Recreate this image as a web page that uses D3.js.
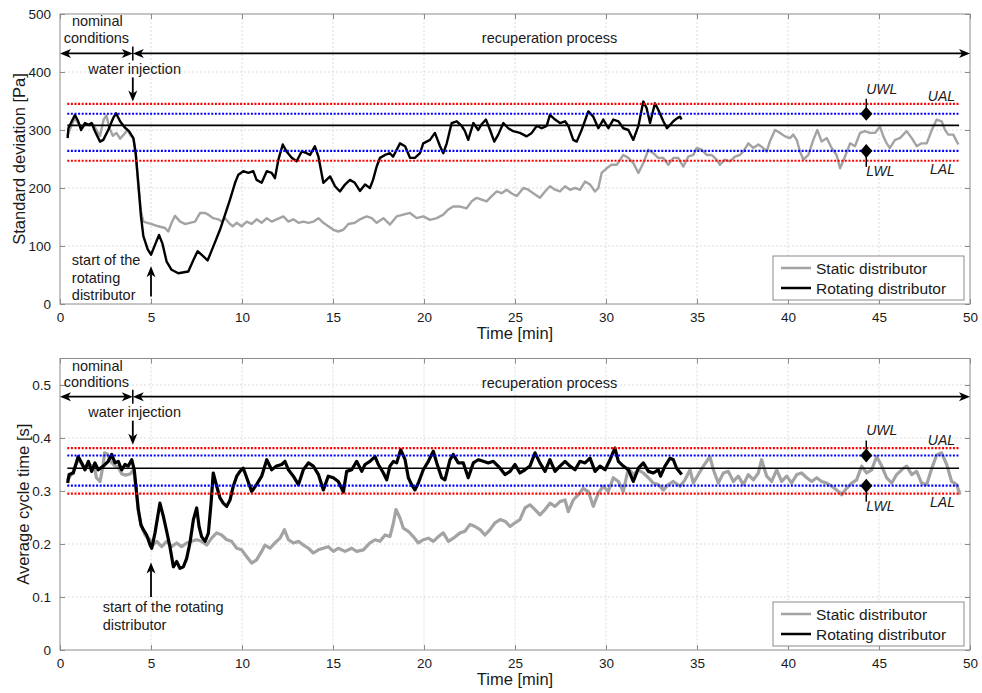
<!DOCTYPE html>
<html><head><meta charset="utf-8">
<script src="https://cdn.jsdelivr.net/npm/d3@7"></script>
<style>
body{margin:0;background:#fff;}
text{font-family:"Liberation Sans",Arial,Helvetica,sans-serif;fill:#1a1a1a;}
</style></head>
<body><svg id="c" width="982" height="693"></svg>
<script>
// ---------- DATA ----------
const xTicks = [0,5,10,15,20,25,30,35,40,45,50];
const sdTicks = [0,100,200,300,400,500];
const ctTicks = [0,0.1,0.2,0.3,0.4,0.5];
const seriesNames = ["Static distributor","Rotating distributor"];
// control limits: [LAL, LWL, mean, UWL, UAL]
const sdLimits = [247, 264, 308, 328, 345];
const ctLimits = [0.295, 0.310, 0.343, 0.367, 0.381];

const sdRotating = [[0.42,286],[0.46,303],[0.6,312],[0.82,326],[1.0,315],[1.16,300],[1.37,312],[1.56,309],[1.74,312],[1.92,298],[2.2,280],[2.38,283],[2.65,300],[2.93,321],[3.08,329],[3.3,315],[3.57,304],[3.79,298],[4.03,286],[4.16,260],[4.3,209],[4.45,151],[4.58,117],[4.82,94],[5.0,85],[5.22,102],[5.44,119],[5.62,105],[5.86,73],[6.13,59],[6.5,53],[7.05,56],[7.33,76],[7.56,91],[7.88,82],[8.11,75],[8.42,99],[8.79,128],[9.07,154],[9.34,180],[9.62,209],[9.8,223],[10.07,229],[10.35,226],[10.62,229],[10.8,214],[11.08,209],[11.36,229],[11.63,226],[11.81,217],[12.0,249],[12.24,275],[12.45,263],[12.73,252],[13.0,246],[13.28,263],[13.55,260],[13.74,257],[14.0,272],[14.2,254],[14.47,209],[14.84,220],[15.11,203],[15.38,194],[15.66,206],[15.93,214],[16.2,209],[16.48,195],[16.76,206],[17.03,200],[17.2,214],[17.4,237],[17.58,252],[17.86,257],[18.13,260],[18.3,254],[18.68,277],[18.96,272],[19.23,252],[19.5,252],[19.78,260],[19.96,277],[20.33,283],[20.6,295],[20.88,272],[21.06,260],[21.25,277],[21.52,312],[21.8,315],[22.07,307],[22.25,298],[22.43,283],[22.71,312],[22.98,300],[23.17,310],[23.4,318],[23.63,300],[23.86,280],[24.08,292],[24.36,312],[24.63,303],[24.9,298],[25.27,295],[25.64,289],[25.92,295],[26.19,307],[26.47,303],[26.74,307],[26.92,326],[27.2,318],[27.47,312],[27.75,315],[27.93,307],[28.2,283],[28.39,280],[28.66,300],[29.03,332],[29.3,323],[29.58,303],[29.85,318],[30.13,303],[30.4,318],[30.68,315],[30.95,303],[31.23,300],[31.5,283],[31.78,307],[32.05,349],[32.23,338],[32.42,312],[32.69,346],[32.87,335],[33.15,315],[33.35,303],[33.5,308],[33.7,315],[33.9,320],[34.07,323],[34.15,318]];

const sdStatic = [[0.4,290],[0.8,320],[1.0,312],[1.2,302],[1.4,310],[1.6,308],[1.8,310],[2.0,300],[2.2,290],[2.4,318],[2.55,325],[2.7,305],[2.9,290],[3.1,295],[3.3,285],[3.5,292],[3.7,300],[3.9,290],[4.05,285],[4.16,258],[4.3,205],[4.45,160],[4.58,142],[4.8,140],[5.0,138],[5.4,134],[5.77,131],[5.95,125],[6.13,140],[6.32,152],[6.6,142],[6.87,138],[7.14,140],[7.42,142],[7.7,157],[7.97,157],[8.15,154],[8.42,148],[8.7,146],[8.88,142],[9.07,148],[9.34,138],[9.5,134],[9.7,140],[9.98,134],[10.26,142],[10.53,138],[10.8,146],[11.08,140],[11.36,148],[11.63,142],[11.9,146],[12.27,151],[12.55,142],[12.82,146],[13.1,140],[13.37,142],[13.65,140],[13.92,142],[14.2,148],[14.47,140],[14.74,134],[15.02,128],[15.29,125],[15.57,128],[15.84,138],[16.2,140],[16.48,146],[16.85,151],[17.13,148],[17.4,140],[17.77,148],[18.13,137],[18.5,151],[18.86,154],[19.23,157],[19.6,148],[19.96,151],[20.33,145],[20.7,148],[21.06,154],[21.34,163],[21.6,168],[21.98,168],[22.34,165],[22.62,177],[22.9,183],[23.17,180],[23.44,177],[23.72,186],[24.0,194],[24.27,191],[24.54,197],[24.8,191],[25.1,186],[25.46,200],[25.73,197],[26.0,191],[26.37,183],[26.65,194],[26.92,203],[27.2,197],[27.47,194],[27.75,203],[28.02,197],[28.3,200],[28.57,197],[28.85,211],[29.12,206],[29.4,194],[29.58,200],[29.76,226],[30.04,234],[30.3,240],[30.59,240],[30.95,257],[31.23,252],[31.5,243],[31.78,226],[32.05,243],[32.33,266],[32.6,260],[32.87,252],[33.15,252],[33.42,240],[33.7,252],[33.97,252],[34.25,237],[34.52,254],[34.8,257],[34.98,269],[35.26,266],[35.53,257],[35.8,257],[36.08,249],[36.26,240],[36.53,249],[36.81,246],[37.09,254],[37.36,257],[37.55,263],[37.82,277],[38.09,269],[38.37,275],[38.64,269],[38.83,263],[39.0,280],[39.29,300],[39.56,295],[39.84,289],[40.11,286],[40.29,292],[40.48,283],[40.66,263],[40.84,249],[41.12,257],[41.39,283],[41.61,300],[41.85,280],[42.13,286],[42.4,269],[42.67,257],[42.86,234],[43.13,254],[43.41,277],[43.68,272],[43.96,295],[44.23,298],[44.5,295],[44.78,295],[45.05,306],[45.24,289],[45.42,277],[45.6,269],[45.88,283],[46.15,286],[46.52,298],[46.8,286],[47.07,272],[47.34,277],[47.62,277],[47.9,300],[48.17,318],[48.44,315],[48.63,300],[48.81,292],[49.08,292],[49.36,275]];

const ctRotating = [[0.42,0.315],[0.5,0.331],[0.73,0.334],[1.0,0.365],[1.19,0.353],[1.37,0.340],[1.56,0.356],[1.74,0.337],[1.92,0.353],[2.1,0.340],[2.38,0.347],[2.65,0.356],[2.84,0.369],[3.02,0.353],[3.2,0.356],[3.39,0.340],[3.57,0.350],[3.75,0.347],[3.94,0.359],[4.08,0.340],[4.21,0.296],[4.3,0.265],[4.45,0.236],[4.58,0.227],[4.76,0.217],[4.95,0.198],[5.04,0.192],[5.22,0.221],[5.49,0.277],[5.68,0.252],[5.86,0.224],[6.04,0.195],[6.23,0.157],[6.41,0.167],[6.59,0.154],[6.78,0.157],[6.96,0.173],[7.14,0.202],[7.33,0.246],[7.51,0.268],[7.64,0.233],[7.78,0.214],[7.97,0.205],[8.15,0.220],[8.3,0.277],[8.42,0.334],[8.61,0.309],[8.79,0.287],[8.97,0.277],[9.16,0.271],[9.34,0.283],[9.52,0.309],[9.71,0.328],[9.89,0.337],[10.07,0.343],[10.26,0.325],[10.53,0.299],[10.8,0.312],[11.08,0.328],[11.36,0.359],[11.63,0.340],[11.9,0.347],[12.18,0.350],[12.36,0.356],[12.55,0.340],[12.82,0.328],[13.1,0.312],[13.37,0.340],[13.65,0.353],[13.92,0.347],[14.2,0.331],[14.47,0.302],[14.74,0.328],[15.02,0.325],[15.29,0.318],[15.57,0.298],[15.75,0.337],[16.03,0.340],[16.3,0.356],[16.58,0.337],[16.76,0.350],[17.03,0.356],[17.31,0.365],[17.49,0.350],[17.77,0.334],[17.95,0.321],[18.13,0.347],[18.32,0.356],[18.5,0.353],[18.72,0.378],[18.96,0.359],[19.14,0.325],[19.32,0.312],[19.5,0.302],[19.69,0.315],[19.96,0.340],[20.24,0.356],[20.51,0.375],[20.7,0.353],[20.97,0.325],[21.15,0.321],[21.43,0.359],[21.61,0.369],[21.88,0.353],[22.16,0.353],[22.43,0.325],[22.71,0.353],[22.98,0.359],[23.26,0.356],[23.53,0.353],[23.81,0.356],[24.18,0.343],[24.45,0.331],[24.73,0.337],[25.0,0.350],[25.27,0.334],[25.55,0.340],[25.82,0.347],[26.1,0.372],[26.37,0.353],[26.65,0.337],[26.92,0.359],[27.2,0.337],[27.47,0.347],[27.75,0.356],[28.02,0.347],[28.3,0.340],[28.57,0.356],[28.85,0.353],[29.12,0.362],[29.4,0.337],[29.67,0.347],[29.95,0.340],[30.22,0.359],[30.49,0.381],[30.68,0.356],[30.95,0.347],[31.23,0.340],[31.5,0.318],[31.78,0.343],[32.05,0.353],[32.33,0.337],[32.6,0.334],[32.87,0.340],[33.0,0.328],[33.24,0.347],[33.52,0.362],[33.7,0.359],[33.88,0.343],[34.16,0.331]];

const ctStatic = [[0.4,0.32],[0.7,0.335],[1.0,0.36],[1.3,0.345],[1.6,0.35],[1.9,0.345],[2.0,0.325],[2.2,0.318],[2.35,0.345],[2.45,0.372],[2.6,0.37],[2.8,0.355],[3.0,0.348],[3.2,0.345],[3.4,0.332],[3.6,0.330],[3.85,0.332],[4.05,0.34],[4.21,0.296],[4.3,0.265],[4.45,0.236],[4.67,0.217],[4.95,0.208],[5.1,0.198],[5.31,0.205],[5.59,0.195],[5.86,0.205],[6.13,0.195],[6.41,0.202],[6.68,0.195],[6.96,0.202],[7.23,0.205],[7.51,0.208],[7.78,0.205],[8.06,0.198],[8.33,0.211],[8.61,0.221],[8.88,0.217],[9.16,0.208],[9.43,0.205],[9.71,0.192],[9.98,0.189],[10.26,0.176],[10.53,0.164],[10.8,0.170],[11.08,0.186],[11.26,0.198],[11.54,0.192],[11.81,0.202],[12.09,0.211],[12.33,0.227],[12.55,0.208],[12.82,0.202],[13.1,0.205],[13.37,0.198],[13.65,0.192],[13.92,0.183],[14.2,0.189],[14.47,0.192],[14.74,0.195],[15.02,0.186],[15.29,0.192],[15.66,0.186],[16.03,0.192],[16.3,0.186],[16.67,0.189],[17.03,0.202],[17.31,0.208],[17.58,0.205],[17.86,0.217],[18.13,0.214],[18.32,0.240],[18.46,0.265],[18.68,0.249],[18.86,0.230],[19.14,0.224],[19.41,0.214],[19.69,0.202],[19.96,0.208],[20.24,0.211],[20.51,0.205],[20.79,0.214],[21.06,0.221],[21.34,0.205],[21.61,0.211],[21.98,0.221],[22.25,0.224],[22.53,0.237],[22.8,0.233],[23.08,0.227],[23.35,0.217],[23.63,0.227],[23.9,0.240],[24.18,0.246],[24.45,0.243],[24.73,0.233],[25.0,0.240],[25.27,0.246],[25.55,0.268],[25.82,0.274],[26.1,0.265],[26.37,0.255],[26.65,0.265],[26.92,0.277],[27.2,0.271],[27.47,0.280],[27.75,0.283],[27.93,0.261],[28.2,0.283],[28.48,0.293],[28.75,0.305],[29.03,0.299],[29.3,0.271],[29.58,0.296],[29.85,0.309],[30.13,0.299],[30.4,0.325],[30.68,0.318],[30.95,0.299],[31.23,0.343],[31.5,0.331],[31.78,0.340],[32.05,0.334],[32.33,0.325],[32.6,0.315],[32.87,0.312],[33.15,0.302],[33.42,0.312],[33.7,0.318],[34.07,0.309],[34.34,0.321],[34.62,0.340],[34.8,0.315],[35.07,0.331],[35.35,0.347],[35.71,0.365],[35.9,0.340],[36.17,0.315],[36.45,0.334],[36.72,0.337],[37.0,0.318],[37.27,0.328],[37.55,0.312],[37.82,0.331],[38.1,0.321],[38.37,0.334],[38.55,0.359],[38.83,0.328],[39.1,0.318],[39.38,0.340],[39.65,0.318],[39.93,0.328],[40.2,0.315],[40.48,0.331],[40.75,0.334],[41.03,0.325],[41.3,0.318],[41.58,0.325],[41.85,0.318],[42.12,0.315],[42.4,0.309],[42.67,0.302],[42.95,0.293],[43.22,0.305],[43.5,0.315],[43.77,0.321],[44.05,0.347],[44.32,0.334],[44.6,0.340],[44.87,0.365],[45.15,0.347],[45.42,0.325],[45.7,0.315],[45.97,0.331],[46.25,0.340],[46.52,0.347],[46.8,0.331],[47.07,0.337],[47.34,0.315],[47.62,0.312],[47.9,0.343],[48.17,0.368],[48.44,0.372],[48.72,0.350],[48.99,0.318],[49.27,0.312],[49.45,0.293]];

// ---------- DRAW ----------
const svg = d3.select("#c");
const FONT = '"Liberation Sans",Arial,Helvetica,sans-serif';

function arrowHead(g, x, y, dir){ // dir: 'l','r','u','d'
  const L=11, W=4.5;
  let p;
  if(dir==='r') p=[[x,y],[x-L,y-W],[x-L+3,y],[x-L,y+W]];
  if(dir==='l') p=[[x,y],[x+L,y-W],[x+L-3,y],[x+L,y+W]];
  if(dir==='d') p=[[x,y],[x-W,y-L],[x,y-L+3],[x+W,y-L]];
  if(dir==='u') p=[[x,y],[x-W,y+L],[x,y+L-3],[x+W,y+L]];
  g.append("path").attr("d","M"+p.map(q=>q.join(",")).join("L")+"Z").attr("fill","#000");
}

function panel(cfg){
  const x = d3.scaleLinear().domain([0,50]).range([60,970]);
  const y = d3.scaleLinear().domain(cfg.yDomain).range([cfg.bottom,cfg.top]);
  const g = svg.append("g");
  const L=60,R=970,T=cfg.top,B=cfg.bottom;

  // grid
  g.append("g").selectAll("line").data(xTicks.slice(1,-1)).join("line")
    .attr("x1",d=>x(d)).attr("x2",d=>x(d)).attr("y1",T).attr("y2",B)
    .attr("stroke","#d4d4d4").attr("stroke-width",0.8).attr("stroke-dasharray","2,2");
  g.append("g").selectAll("line").data(cfg.yTicks.filter(v=>v>cfg.yDomain[0] && y(v)>T+1)).join("line")
    .attr("x1",L).attr("x2",R).attr("y1",d=>y(d)).attr("y2",d=>y(d))
    .attr("stroke","#d4d4d4").attr("stroke-width",0.8).attr("stroke-dasharray","2,2");

  // axes via d3 axes (ticks inward)
  const xa = d3.axisBottom(x).tickValues(xTicks).tickSize(-5).tickPadding(8).tickFormat(d3.format("d"));
  const gx = g.append("g").attr("transform",`translate(0,${B})`).call(xa);
  const ya = d3.axisLeft(y).tickValues(cfg.yTicks).tickSize(-5).tickPadding(9).tickFormat(cfg.fmt);
  const gy = g.append("g").attr("transform",`translate(${L},0)`).call(ya);
  const yr = d3.axisRight(y).tickValues(cfg.yTicks).tickSize(-5).tickFormat("");
  const gyr = g.append("g").attr("transform",`translate(${R},0)`).call(yr);
  const xt = d3.axisTop(x).tickValues(xTicks).tickSize(-5).tickFormat("");
  const gxt = g.append("g").attr("transform",`translate(0,${T})`).call(xt);
  [gx,gy,gyr,gxt].forEach(a=>{
    a.select(".domain").remove();
    a.selectAll(".tick line").attr("stroke","#8c8c8c");
    a.selectAll(".tick text").attr("font-family",FONT).attr("font-size",13.5).attr("fill","#1a1a1a");
  });

  // series
  const line = d3.line().x(d=>x(d[0])).y(d=>y(d[1])).curve(d3.curveLinear);
  g.append("path").datum(cfg.stat).attr("d",line).attr("fill","none")
    .attr("stroke","#a3a3a3").attr("stroke-width",cfg.sw).attr("stroke-linejoin","round");
  g.append("path").datum(cfg.rot).attr("d",line).attr("fill","none")
    .attr("stroke","#000").attr("stroke-width",cfg.sw).attr("stroke-linejoin","round");

  // limits
  const lim = cfg.limits;
  const lx1 = x(0.4), lx2 = x(49.4);
  const limStyle = [["#ff0000","2,1.6"],["#0000ff","2,1.6"],["#000",null],["#0000ff","2,1.6"],["#ff0000","2,1.6"]];
  lim.forEach((v,i)=>{
    const l = g.append("line").attr("x1",lx1).attr("x2",lx2).attr("y1",y(v)).attr("y2",y(v))
      .attr("stroke",limStyle[i][0]).attr("stroke-width",i===2?1.6:2.2);
    if(limStyle[i][1]) l.attr("stroke-dasharray",limStyle[i][1]);
  });

  // frame
  g.append("rect").attr("x",L).attr("y",T).attr("width",R-L).attr("height",B-T)
    .attr("fill","none").attr("stroke","#8c8c8c").attr("stroke-width",1);

  // UWL / LWL markers
  const mx = x(44.3);
  const yU = y(lim[3]), yLw = y(lim[1]);
  g.append("line").attr("x1",mx).attr("x2",mx).attr("y1",yU-15).attr("y2",yU).attr("stroke","#000").attr("stroke-width",1.5);
  g.append("line").attr("x1",mx).attr("x2",mx).attr("y1",yLw).attr("y2",yLw+16).attr("stroke","#000").attr("stroke-width",1.5);
  [yU,yLw].forEach(yy=>{
    g.append("path").attr("d",`M${mx},${yy-7}L${mx+6},${yy}L${mx},${yy+7}L${mx-6},${yy}Z`).attr("fill","#000");
  });
  const it = (t,xx,yy,anchor)=>g.append("text").text(t).attr("x",xx).attr("y",yy)
      .attr("font-size",14).attr("font-style","italic").attr("text-anchor",anchor).attr("dominant-baseline","central");
  it("UWL",mx,yU-25,"start");
  it("LWL",mx,yLw+20,"start");
  it("UAL",955,y(lim[4])-8,"end");
  it("LAL",955,y(lim[0])+8,"end");

  // phase arrows
  const ay = y(cfg.arrowV);
  const x0=x(0), x4=x(4), x50=x(50);
  g.append("line").attr("x1",x0+4).attr("x2",x4-4).attr("y1",ay).attr("y2",ay).attr("stroke","#000").attr("stroke-width",1.8);
  g.append("line").attr("x1",x4+4).attr("x2",x50-4).attr("y1",ay).attr("y2",ay).attr("stroke","#000").attr("stroke-width",1.8);
  arrowHead(g,x0,ay,'l'); arrowHead(g,x4,ay,'r'); arrowHead(g,x4,ay,'l'); arrowHead(g,x50,ay,'r');
  g.append("line").attr("x1",x4).attr("x2",x4).attr("y1",ay-7).attr("y2",ay+7).attr("stroke","#000").attr("stroke-width",1.5);

  const tx = (t,xx,yy,anchor)=>g.append("text").text(t).attr("x",xx).attr("y",yy)
      .attr("font-size",14.5).attr("text-anchor",anchor||"middle").attr("dominant-baseline","central");
  tx("nominal", x(2.05), T+7);
  tx("conditions", x(2.0), T+23.5);
  tx("recuperation process", x(26.9), T+24);
  tx("water injection", x(4.1), ay+15.5);

  // water injection down arrow
  g.append("line").attr("x1",x4).attr("x2",x4).attr("y1",ay+24).attr("y2",ay+40).attr("stroke","#000").attr("stroke-width",1.8);
  arrowHead(g,x4,ay+48,'d');

  // start of rotating distributor up arrow
  const x5 = x(5);
  g.append("line").attr("x1",x5).attr("x2",x5).attr("y1",y(cfg.startTip)+8).attr("y2",y(cfg.startTail)).attr("stroke","#000").attr("stroke-width",1.8);
  arrowHead(g,x5,y(cfg.startTip),'u');
  cfg.startText.forEach((s,i)=>tx(s, x(cfg.startTextX), cfg.startTextY + i*17.5, "start"));

  // legend
  const lg = g.append("g");
  const lTop = B-48, lLeft = 773;
  lg.append("rect").attr("x",lLeft).attr("y",lTop).attr("width",191).attr("height",44)
    .attr("fill","#fff").attr("stroke","#8c8c8c").attr("stroke-width",1);
  [["#a3a3a3",seriesNames[0]],["#000",seriesNames[1]]].forEach((d,i)=>{
    const yy = lTop+12+i*20;
    lg.append("line").attr("x1",lLeft+8).attr("x2",lLeft+38).attr("y1",yy).attr("y2",yy).attr("stroke",d[0]).attr("stroke-width",2.5);
    lg.append("text").text(d[1]).attr("x",lLeft+43).attr("y",yy).attr("font-size",15.5).attr("dominant-baseline","central");
  });

  // axis labels
  g.append("text").text("Time [min]").attr("x",515).attr("y",B+29).attr("font-size",16.5)
    .attr("text-anchor","middle").attr("dominant-baseline","central");
  g.append("text").text(cfg.yLabel).attr("transform",`translate(${cfg.yLabelX},${(T+B)/2}) rotate(-90)`)
    .attr("font-size",16.5).attr("text-anchor","middle").attr("dominant-baseline","central");
}

panel({top:14, bottom:304, yDomain:[0,500], yTicks:sdTicks, fmt:d3.format("d"),
  stat:sdStatic, rot:sdRotating, limits:sdLimits, sw:2.4, arrowV:432,
  startTip:65, startTail:13, startText:["start of the","rotating","distributor"], startTextX:0.65, startTextY:260,
  yLabel:"Standard deviation [Pa]", yLabelX:19});

panel({top:358.5, bottom:650, yDomain:[0,0.55], yTicks:ctTicks, fmt:d=>d===0?"0":d3.format(".1f")(d),
  stat:ctStatic, rot:ctRotating, limits:ctLimits, sw:3.2, arrowV:0.478,
  startTip:0.165, startTail:0.10, startText:["start of the rotating","distributor"], startTextX:2.35, startTextY:607,
  yLabel:"Average cycle time [s]", yLabelX:23});
</script></body></html>
